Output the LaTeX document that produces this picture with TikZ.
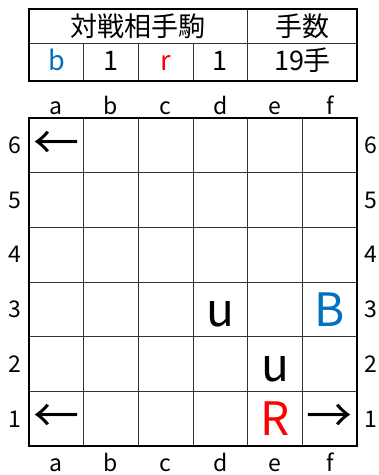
\documentclass[tikz,border=0pt]{standalone}
\usepackage{fontspec}
\setmainfont{Noto Sans CJK JP}
\usepackage{tikz}
\usetikzlibrary{calc}
\definecolor{capblue}{RGB}{0,112,192}
\definecolor{capred}{RGB}{255,0,0}
\newcommand{\lblsize}{\fontsize{23}{26}\selectfont}
\newcommand{\tblsize}{\fontsize{27}{30}\selectfont}
\newcommand{\pcsize}{\fontsize{46}{50}\selectfont}
\tikzset{
  frame/.style ={draw, line width=2pt},
  gridln/.style={draw, line width=0.9pt, black!80},
  tbl/.style   ={inner sep=0pt, font=\tblsize, anchor=base},
  lbl/.style   ={inner sep=0pt, font=\lblsize},
  piece/.style ={inner sep=0pt, font=\pcsize, anchor=base},
  arrw/.style  ={inner sep=0pt, font=\pcsize},
}

\begin{document}
\begin{tikzpicture}[x=1pt,y=-1pt]
\useasboundingbox (0,0) rectangle (379,475);
% score table
\draw[gridln] (29,43) -- (357.2,43);
\foreach \x in {83.7,138.4,193.1,247.8} \draw[gridln] (\x,43) -- (\x,80.7);
\draw[gridln] (247.8,9) -- (247.8,43);
\draw[frame] (29,9) rectangle (357.2,80.7);
\node[tbl,anchor=center] (hdpc) at (138.4,25.8) {対戦相手駒};
\node[tbl,anchor=center] (hdmv) at (302.5,25.8) {手数};
\node[tbl,text=capblue] (ownb) at (56.35,70.5) {b};
\node[tbl] (numb) at (111.05,70.5) {1};
\node[tbl,text=capred] (ownr) at (165.75,70.5) {r};
\node[tbl] (numr) at (220.45,70.5) {1};
\node[tbl] (moves) at (302.5,70.5) {19手};
% board
\foreach \i in {1,...,5} {
  \draw[gridln] ({29+54.7*\i},118) -- ({29+54.7*\i},446.2);
  \draw[gridln] (29,{118+54.7*\i}) -- (357.2,{118+54.7*\i});
}
\draw[frame] (29,118) rectangle (357.2,446.2);
\foreach \c [count=\i] in {a,b,c,d,e,f} {
  \node[lbl,anchor=base] (top-\c) at ({29+54.7*(\i-0.5)},114) {\c};
  \node[lbl,anchor=base] (bot-\c) at ({29+54.7*(\i-0.5)},471.7) {\c};
}
\foreach \r in {1,...,6} {
  \node[lbl] (lft-\r) at (15,{446.2-54.7*(\r-0.5)}) {\r};
  \node[lbl] (rgt-\r) at (371,{446.2-54.7*(\r-0.5)}) {\r};
}
% pieces
\node[piece] (d3) at (220.45,326.5) {u};
\node[piece,text=capblue] (f3) at (329.85,326.5) {B};
\node[piece] (e2) at (275.15,381.2) {u};
\node[piece,text=capred] (e1) at (275.15,435.9) {R};
\node[arrw] (a6) at (56.35,145.35) {←};
\node[arrw] (a1) at (56.35,418.85) {←};
\node[arrw] (f1) at (329.85,418.85) {→};
\end{tikzpicture}
\end{document}
